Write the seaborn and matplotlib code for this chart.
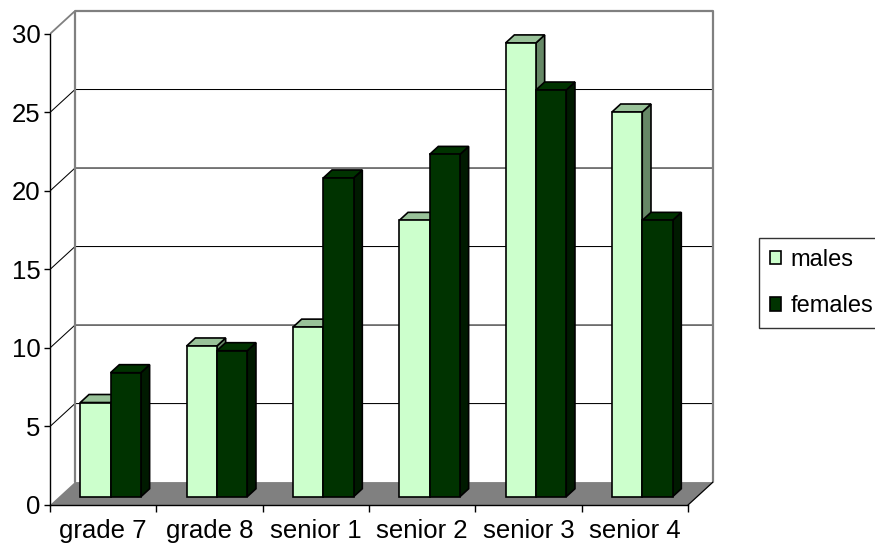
import numpy as np
import pandas as pd
import matplotlib
matplotlib.use("Agg")
import matplotlib.pyplot as plt
from matplotlib.patches import Polygon
from matplotlib.transforms import Affine2D
import seaborn as sns

# ---- data ----
grades = ["grade 7", "grade 8", "senior 1", "senior 2", "senior 3", "senior 4"]
males = [6.0, 9.6, 10.8, 17.6, 28.9, 24.5]
females = [7.9, 9.3, 20.3, 21.8, 25.9, 17.6]
series = ["males", "females"]
y_ticks = [0, 5, 10, 15, 20, 25, 30]

df = pd.DataFrame({
    "grade": grades * 2,
    "sex": ["males"] * len(grades) + ["females"] * len(grades),
    "value": males + females,
})

# ---- style ----
sns.set_theme(style="ticks")
plt.rcParams["font.family"] = ["Liberation Sans", "DejaVu Sans"]
plt.rcParams["text.color"] = "black"
plt.rcParams["xtick.color"] = "black"
plt.rcParams["ytick.color"] = "black"
FS = 18.5

face_cols = {"males": "#CCFFCC", "females": "#003300"}
top_cols = {"males": "#99C299", "females": "#003300"}
side_cols = {"males": "#668866", "females": "#001A00"}

fig = plt.figure(figsize=(8.75, 5.5), dpi=100)
fig.patch.set_facecolor("white")
ax = fig.add_axes([50 / 875, 45 / 550, 663 / 875, 494 / 550])
ax.set_facecolor("none")

# oblique depth of the box (data units)
DX, DY = 0.235, 1.46
X0, X1, YMAX = -0.5, 5.5, 30
# bar depth span as fractions of the box depth
F0, F1 = 0.36, 0.71

sns.barplot(data=df, x="grade", y="value", hue="sex", order=grades,
            hue_order=series, palette=face_cols, saturation=1,
            width=0.57, edgecolor="black", linewidth=1.2, ax=ax)

handles, labels = ax.get_legend_handles_labels()
if ax.get_legend() is not None:
    ax.get_legend().remove()

# ---- back wall and floor ----
wall_col = "#808080"
for v in y_ticks[1:-1]:
    ax.plot([X0, X0 + DX, X1 + DX], [v, v + DY, v + DY],
            color="black", lw=0.75, zorder=0.5, solid_capstyle="butt")
ax.plot([X0, X0 + DX], [YMAX, YMAX + DY], color=wall_col, lw=1.3, zorder=0.6)
ax.plot([X0 + DX, X0 + DX, X1 + DX, X1 + DX],
        [DY, YMAX + DY, YMAX + DY, DY],
        color=wall_col, lw=1.6, zorder=0.6, clip_on=False)

floor = Polygon([(X0, 0), (X1, 0), (X1 + DX, DY), (X0 + DX, DY)],
                closed=True, facecolor=wall_col, edgecolor="none", zorder=1)
ax.add_patch(floor)
ax.plot([X1, X1 + DX], [0, DY], color="black", lw=0.9, zorder=1.1)

# ---- 3D bar faces ----
shift = Affine2D().translate(F0 * DX - 0.015, F0 * DY) + ax.transData
bdx, bdy = (F1 - F0) * DX, (F1 - F0) * DY
for i, (name, cont) in enumerate(zip(series, ax.containers)):
    base_z = 3 + 0.2 * i
    for rect in cont.patches:
        x0, w, h = rect.get_x(), rect.get_width(), rect.get_height()
        rect.set_transform(shift)
        rect.set_zorder(base_z + 0.1)
        side = Polygon([(x0 + w, 0), (x0 + w, h), (x0 + w + bdx, h + bdy),
                        (x0 + w + bdx, bdy)], closed=True,
                       facecolor=side_cols[name], edgecolor="black",
                       lw=1.2, zorder=base_z, transform=shift)
        top = Polygon([(x0, h), (x0 + w, h), (x0 + w + bdx, h + bdy),
                       (x0 + bdx, h + bdy)], closed=True,
                      facecolor=top_cols[name], edgecolor="black",
                      lw=1.2, zorder=base_z, transform=shift)
        ax.add_patch(side)
        ax.add_patch(top)

# ---- axes ----
ax.set_xlim(X0, X1 + DX)
ax.set_ylim(0, YMAX + DY)
for s in ["top", "right"]:
    ax.spines[s].set_visible(False)
ax.spines["left"].set_bounds(0, YMAX)
ax.spines["bottom"].set_bounds(X0, X1)
for s in ["left", "bottom"]:
    ax.spines[s].set_color("black")
    ax.spines[s].set_linewidth(1.0)
    ax.spines[s].set_zorder(5)

ax.set_yticks(y_ticks)
ax.set_yticklabels([str(t) for t in y_ticks], fontsize=FS)
ax.tick_params(axis="y", length=4, width=1, color="black", pad=3, left=True)

ax.set_xticks(np.arange(X0, X1 + 0.01, 1.0))
ax.set_xticklabels([])
ax.set_xticks(np.arange(len(grades)), minor=True)
ax.set_xticklabels(grades, minor=True, fontsize=FS)
ax.tick_params(axis="x", which="major", length=5, width=1, color="black",
               bottom=True)
ax.tick_params(axis="x", which="minor", length=0, pad=10)
ax.set_xlabel("")
ax.set_ylabel("")

# ---- legend ----
leg = fig.legend(handles, labels, loc="upper left",
                 bbox_to_anchor=(759 / 875, 1 - 238 / 550),
                 frameon=True, fancybox=False, edgecolor="black",
                 fontsize=17, handlelength=0.5, handleheight=0.5,
                 handletextpad=0.4, labelspacing=1.05, borderpad=0.45,
                 borderaxespad=0.0)
leg.get_frame().set_linewidth(1.0)
for hnd in leg.legend_handles:
    hnd.set_edgecolor("black")
    hnd.set_linewidth(1.2)

fig.savefig("out.png", dpi=100, facecolor="white")
